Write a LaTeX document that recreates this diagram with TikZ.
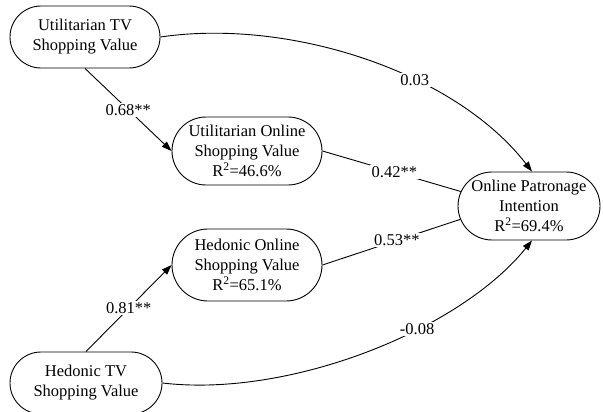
\documentclass[tikz,border=0pt]{standalone}
\usepackage{fontspec}
\setmainfont{Liberation Serif}
\usetikzlibrary{shapes.misc,arrows.meta,calc}
\begin{document}
\begin{tikzpicture}[x=1pt,y=-1pt,
  every node/.style={font=\fontsize{16.5}{20}\selectfont},
  var/.style={rounded rectangle, draw, line width=0.9pt, align=center, inner sep=0pt},
  lbl/.style={fill=white, inner sep=1.5pt},
  con/.style={line width=0.9pt},
  arr/.style={con, -{Triangle[length=10pt,width=7pt]}}]
\useasboundingbox (0,0) rectangle (603,412);
\node[var, minimum width=150pt, minimum height=62pt] (utv) at (85,37) {Utilitarian TV\\Shopping Value};
\node[var, minimum width=150pt, minimum height=68pt] (uon) at (247,151) {Utilitarian Online\\Shopping Value\\R\textsuperscript{2}=46.6\%};
\node[var, minimum width=150pt, minimum height=72pt] (hon) at (247,265) {Hedonic Online\\Shopping Value\\R\textsuperscript{2}=65.1\%};
\node[var, minimum width=142pt, minimum height=68pt] (opi) at (529,206) {Online Patronage\\Intention\\R\textsuperscript{2}=69.4\%};
\node[var, minimum width=152pt, minimum height=62pt] (htv) at (86,383) {Hedonic TV\\Shopping Value};

\draw[arr] (utv.south) -- node[lbl] (l1) {0.68**} (uon.west);
\draw[arr] (htv.north) -- node[lbl] (l2) {0.81**} (hon.west);
\draw[con] (uon.east) -- node[lbl, pos=0.52] (l3) {0.42**} (opi.168);
\draw[con] (hon.east) -- node[lbl, pos=0.54] (l4) {0.53**} (opi.191);
\draw[arr] (utv.east) .. controls (290,18) and (455,72) .. node[lbl, pos=0.625] (l5) {0.03} ($(opi.north)+(3,0)$);
\draw[arr] (htv.east) .. controls (290,398) and (460,330) .. node[lbl, pos=0.625] (l6) {-0.08} ($(opi.south)+(3,0)$);
\end{tikzpicture}
\end{document}
